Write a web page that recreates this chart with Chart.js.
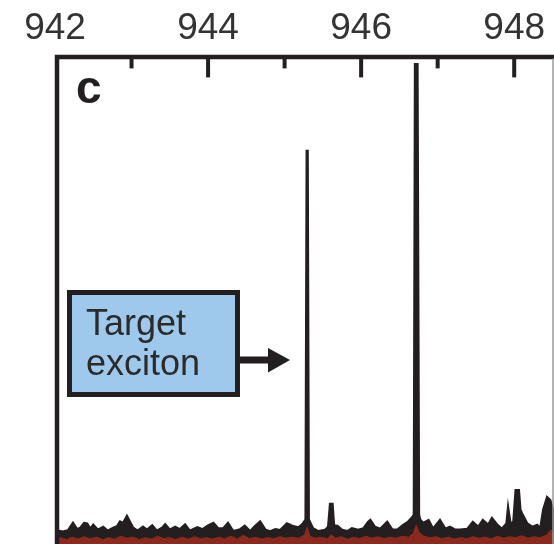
<!DOCTYPE html>
<html>
<head>
<meta charset="utf-8">
<script src="https://cdn.jsdelivr.net/npm/chart.js@4"></script>
<style>
  body { margin: 0; background: #fff; }
  canvas { display: block; }
</style>
</head>
<body>
<canvas id="spectrum" width="554" height="544"></canvas>
<script>
// tick labels along the top axis (nm)
const majorTicks = [942, 944, 946, 948];
const minorTicks = [943, 945, 947];

// measured PL spectrum (black)
const wavelength = [942.00, 942.04, 942.10, 942.17, 942.235, 942.29, 942.33, 942.38, 942.42, 942.46,
  942.50, 942.56, 942.63, 942.69, 942.76, 942.81, 942.85, 942.89, 942.94, 942.98,
  943.02, 943.08, 943.15, 943.20, 943.27, 943.33, 943.40, 943.44, 943.50, 943.57,
  943.63, 943.70, 943.76, 943.86, 943.93, 944.00, 944.07, 944.13, 944.20, 944.26,
  944.33, 944.42, 944.48, 944.55, 944.61, 944.68, 944.75, 944.81, 944.88, 944.94,
  945.03, 945.10, 945.18, 945.23, 945.275, 945.29, 945.30, 945.315, 945.37, 945.44,
  945.53, 945.57, 945.595, 945.625, 945.645, 945.69, 945.75, 945.82, 945.88, 945.96,
  946.03, 946.09, 946.12, 946.18, 946.25, 946.34, 946.41, 946.47, 946.55, 946.61,
  946.67, 946.69, 946.705, 946.735, 946.755, 946.77, 946.81, 946.88, 946.94, 947.03,
  947.10, 947.16, 947.23, 947.29, 947.39, 947.46, 947.53, 947.59, 947.66, 947.71,
  947.78, 947.84, 947.90, 947.92, 947.95, 947.99, 948.02, 948.06, 948.08, 948.10,
  948.17, 948.24, 948.30, 948.34, 948.38, 948.43, 948.47, 948.52];
const intensity = [2.6, 2.7, 2.5, 2.8, 4.3, 3.0, 3.3, 4.3, 4.2, 3.1,
  3.9, 2.9, 3.5, 2.7, 3.3, 3.6, 4.6, 4.3, 5.7, 4.5,
  3.3, 2.7, 3.5, 2.9, 3.8, 2.7, 3.3, 4.0, 2.9, 3.5,
  3.0, 4.0, 2.7, 3.4, 3.0, 3.8, 4.3, 3.2, 3.2, 4.3,
  2.6, 3.0, 3.7, 2.6, 3.6, 4.6, 2.9, 2.6, 3.0, 2.8,
  4.2, 3.7, 3.4, 4.0, 5.0, 80.6, 80.6, 5.0, 3.2, 2.6,
  2.9, 3.5, 8.2, 8.2, 3.8, 3.7, 2.9, 2.6, 3.2, 2.9,
  3.2, 4.5, 4.9, 3.5, 3.1, 4.5, 2.9, 2.9, 3.9, 4.5,
  5.5, 6.0, 98.4, 98.4, 6.0, 5.0, 4.3, 4.9, 3.1, 4.9,
  3.1, 3.5, 2.9, 2.9, 3.1, 4.5, 3.5, 4.9, 3.9, 5.3,
  3.9, 3.1, 4.2, 7.4, 4.2, 4.5, 11.0, 11.0, 7.0, 6.3,
  4.2, 3.5, 3.9, 3.1, 7.0, 9.6, 9.0, 6.3];

// background spectrum (red)
const bgWavelength = [942.00, 942.08, 942.15, 942.22, 942.30, 942.38, 942.46, 942.55, 942.62, 942.70,
  942.78, 942.86, 942.94, 943.02, 943.10, 943.18, 943.26, 943.34, 943.42, 943.50,
  943.58, 943.66, 943.74, 943.82, 943.90, 943.98, 944.06, 944.14, 944.22, 944.30,
  944.38, 944.46, 944.54, 944.62, 944.70, 944.78, 944.86, 944.94, 945.02, 945.10,
  945.18, 945.26, 945.295, 945.33, 945.40, 945.48, 945.56, 945.61, 945.66, 945.74,
  945.82, 945.90, 945.98, 946.06, 946.14, 946.22, 946.30, 946.38, 946.46, 946.54,
  946.62, 946.68, 946.72, 946.76, 946.82, 946.90, 946.98, 947.06, 947.14, 947.22,
  947.30, 947.38, 947.46, 947.54, 947.62, 947.70, 947.78, 947.86, 947.94, 948.02,
  948.10, 948.18, 948.26, 948.34, 948.42, 948.48, 948.52];
const bgIntensity = [1.0, 1.3, 0.9, 1.4, 1.0, 1.5, 1.1, 1.4, 0.9, 1.3,
  1.0, 1.6, 1.2, 1.4, 0.9, 1.3, 1.0, 1.6, 1.1, 1.3,
  0.9, 1.4, 1.0, 1.5, 1.1, 1.3, 1.0, 1.4, 1.1, 1.6,
  1.0, 1.8, 1.1, 1.4, 1.0, 1.3, 1.1, 1.5, 1.2, 1.4,
  1.2, 1.8, 3.5, 1.6, 1.2, 1.4, 1.1, 1.9, 1.2, 1.5,
  1.0, 1.4, 1.1, 1.6, 1.2, 1.5, 1.1, 1.4, 1.2, 1.6,
  1.4, 2.2, 3.9, 2.3, 1.6, 1.3, 1.5, 1.1, 1.4, 1.0,
  1.3, 1.1, 1.5, 1.2, 1.4, 1.1, 1.6, 1.2, 1.5, 1.3,
  1.7, 1.2, 1.5, 1.3, 1.8, 2.9, 2.2];

const ink = '#231f20';

const pts = (xs, ys) => xs.map((x, i) => ({ x: x, y: ys[i] }));

// frame, inner tick marks, panel letter and the "Target exciton" call-out
const decorations = {
  id: 'decorations',
  afterDatasetsDraw(chart) {
    const ctx = chart.ctx;
    const a = chart.chartArea;
    const xs = chart.scales.x;
    ctx.save();
    ctx.strokeStyle = ink;
    ctx.lineCap = 'butt';

    // frame (left + top), bottom and right run off the picture
    ctx.lineWidth = 4.5;
    ctx.beginPath();
    ctx.moveTo(a.left + 2, a.bottom + 5);
    ctx.lineTo(a.left + 2, a.top + 0.5);
    ctx.lineTo(a.right + 5, a.top + 0.5);
    ctx.stroke();
    ctx.lineWidth = 1.5;
    ctx.strokeStyle = '#9a9a9a';
    ctx.beginPath();
    ctx.moveTo(a.right - 1, a.top + 2);
    ctx.lineTo(a.right - 1, a.bottom);
    ctx.stroke();

    // tick marks pointing into the plot
    ctx.strokeStyle = ink;
    ctx.lineWidth = 4;
    majorTicks.slice(1).forEach(v => {
      const px = xs.getPixelForValue(v);
      ctx.beginPath();
      ctx.moveTo(px, a.top);
      ctx.lineTo(px, a.top + 21);
      ctx.stroke();
    });
    minorTicks.forEach(v => {
      const px = xs.getPixelForValue(v);
      ctx.beginPath();
      ctx.moveTo(px, a.top);
      ctx.lineTo(px, a.top + 12);
      ctx.stroke();
    });

    // panel letter
    ctx.fillStyle = ink;
    ctx.font = 'bold 46px "Liberation Sans", Arial, sans-serif';
    ctx.textBaseline = 'alphabetic';
    ctx.textAlign = 'left';
    ctx.fillText('c', 76, 103);

    // call-out box
    ctx.fillStyle = '#9fc9ec';
    ctx.fillRect(69.5, 292.5, 168, 102);
    ctx.lineWidth = 5;
    ctx.strokeStyle = ink;
    ctx.strokeRect(69.5, 292.5, 168, 102);
    ctx.fillStyle = '#2b2b2b';
    ctx.font = '36px "Liberation Sans", Arial, sans-serif';
    ctx.fillText('Target', 86, 335);
    ctx.fillText('exciton', 86, 375);

    // arrow towards the target line
    ctx.fillStyle = ink;
    ctx.fillRect(240, 356.5, 30, 7);
    ctx.beginPath();
    ctx.moveTo(268, 348);
    ctx.lineTo(290, 360);
    ctx.lineTo(268, 372.5);
    ctx.closePath();
    ctx.fill();
    ctx.restore();
  }
};

new Chart(document.getElementById('spectrum'), {
  type: 'line',
  data: {
    datasets: [{
      label: 'background',
      data: pts(bgWavelength, bgIntensity),
      borderColor: '#8a2a1f',
      backgroundColor: '#8a2a1f',
      borderWidth: 1,
      fill: 'origin',
      pointRadius: 0,
      tension: 0,
      order: 0
    }, {
      label: 'spectrum',
      data: pts(wavelength, intensity),
      borderColor: ink,
      backgroundColor: ink,
      borderWidth: 2.5,
      fill: 'origin',
      pointRadius: 0,
      tension: 0,
      order: 1
    }]
  },
  options: {
    responsive: false,
    animation: false,
    layout: { padding: { left: 55, right: 0, top: 2, bottom: 0 } },
    plugins: {
      legend: { display: false },
      tooltip: { enabled: false }
    },
    scales: {
      x: {
        type: 'linear',
        position: 'top',
        min: 942,
        max: 948.52,
        afterBuildTicks: scale => {
          scale.ticks = majorTicks.map(v => ({ value: v }));
        },
        grid: { display: false, drawTicks: false },
        border: { display: false },
        ticks: {
          padding: 5,
          color: '#333',
          maxRotation: 0,
          autoSkip: false,
          font: { family: '"Liberation Sans", Arial, sans-serif', size: 37, lineHeight: 1.2 }
        }
      },
      y: {
        display: false,
        min: 0,
        max: 100
      }
    }
  },
  plugins: [decorations]
});
</script>
</body>
</html>
